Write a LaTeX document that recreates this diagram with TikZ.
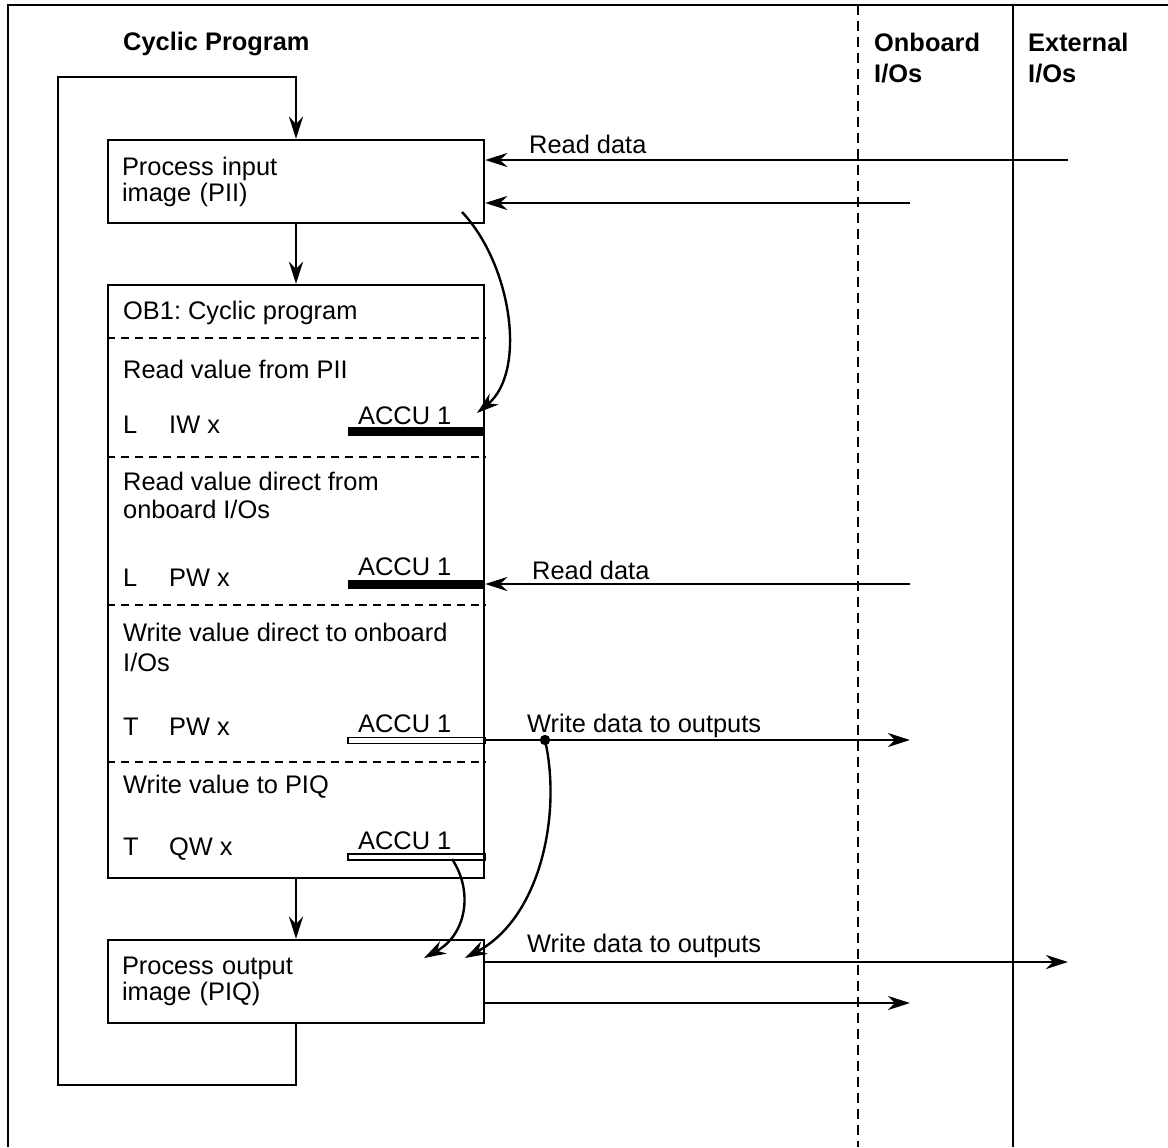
\documentclass[tikz,border=0pt]{standalone}
\usepackage{fontspec}
\setmainfont{Liberation Sans}
\usepackage{tikz}
\usetikzlibrary{arrows.meta}
\frenchspacing

\begin{document}
\begin{tikzpicture}[x=0.5pt,y=-0.5pt,>={Stealth[length=11pt,width=7pt,inset=3.5pt]},
  font=\fontsize{12.7}{13}\selectfont,line width=1.2pt,
  procbox/.style={draw,minimum width=188pt,minimum height=41.5pt,text width=174pt,inner xsep=7pt,align=left},
  lbl/.style={anchor=base west,inner sep=0pt},
  head/.style={anchor=north west,inner sep=0pt,align=left,font=\fontsize{12.7}{15.5}\selectfont\bfseries},
  sep/.style={line width=1pt,dash pattern=on 4pt off 3pt},
  accu/.style={line width=4.5pt},
  accuw/.style={line width=0.6pt}]
\useasboundingbox (0,0) rectangle (1168,1147);
% frame and columns
\draw (1168,5) -- (8,5) -- (8,1147);
\draw[dash pattern=on 5pt off 3pt] (858,5) -- (858,1147);
\draw (1013,5) -- (1013,1147);
\node[head,anchor=base west] (cyc) at (122,50) {Cyclic Program};
\node[head] (onb) at (873,32) {Onboard\\I/Os};
\node[head] (ext) at (1027,32) {External\\I/Os};
% boxes
\node[procbox] (pii) at (296,181.5) {Process input\\image (PII)};
\node[draw,minimum width=188pt,minimum height=296.5pt] (ob1) at (296,581.5) {};
\node[procbox] (piq) at (296,981.5) {Process output\\image (PIQ)};
\draw[->] (pii) -- (ob1);
\draw[->] (ob1) -- (piq);
\coordinate (lpb) at (58,1085);
\coordinate (lpt) at (58,77);
\draw[->] (piq.south) |- (lpb) -- (lpt) -| (pii.north);
\foreach \y in {338,457,605,762}
  \draw[sep] (ob1.west |- 0,\y) -- (ob1.east |- 0,\y);
% OB1 rows
\node[lbl] (t1) at (122,319) {OB1: Cyclic program};
\node[lbl] (t2) at (122,378) {Read value from PII};
\node[lbl] (l1) at (122,433) {L};
\node[lbl] (o1) at (168,433) {IW x};
\node[lbl] (a1) at (357,424) {ACCU 1};
\draw[accu] (348,431.5) -- (ob1.east |- 0,431.5);
\node[lbl] (t3) at (122,490) {Read value direct from};
\node[lbl] (t3b) at (122,518) {onboard I/Os};
\node[lbl] (l2) at (122,586) {L};
\node[lbl] (o2) at (168,586) {PW x};
\node[lbl] (a2) at (357,575) {ACCU 1};
\draw[accu] (348,584) -- (ob1.east |- 0,584);
\node[lbl] (t4) at (122,641) {Write value direct to onboard};
\node[lbl] (t4b) at (122,671) {I/Os};
\node[lbl] (l3) at (122,735) {T};
\node[lbl] (o3) at (168,735) {PW x};
\node[lbl] (a3) at (357,732) {ACCU 1};
\draw[accuw] (348,737.5) rectangle (ob1.east |- 0,743.5);
\node[lbl] (t5) at (122,793) {Write value to PIQ};
\node[lbl] (l4) at (122,855) {T};
\node[lbl] (o4) at (168,855) {QW x};
\node[lbl] (a4) at (357,849) {ACCU 1};
\draw[accuw] (348,854) rectangle (ob1.east |- 0,860);
% data flow
\coordinate (rd1) at (1068,160);
\coordinate (rd2) at (910,203);
\draw[->] (rd1) -- (pii.east |- rd1);
\draw[->] (rd2) -- (pii.east |- rd2);
\node[lbl] (rdl1) at (528,153) {Read data};
\coordinate (c1s) at (462,212);
\coordinate (c1e) at (477,413);
\draw[->] (c1s) .. controls (512,265) and (527,372) .. (c1e);
\coordinate (rd3) at (910,584);
\draw[->] (rd3) -- (ob1.east |- rd3);
\node[lbl] (rdl2) at (531,579) {Read data};
\coordinate (wr1) at (910,740);
\draw[->] (ob1.east |- wr1) -- (wr1);
\node[lbl] (wrl1) at (526,732) {Write data to outputs};
\coordinate (wdot) at (545,740);
\fill (wdot) circle (2.6pt);
\coordinate (c2e) at (465,958);
\draw[->] (wdot) .. controls (562,815) and (540,918) .. (c2e);
\coordinate (c3s) at (452,859);
\coordinate (c3e) at (424,958);
\draw[->] (c3s) .. controls (474,892) and (466,935) .. (c3e);
\coordinate (wr2) at (1068,962);
\coordinate (wr3) at (910,1003);
\draw[->] (piq.east |- wr2) -- (wr2);
\draw[->] (piq.east |- wr3) -- (wr3);
\node[lbl] (wrl2) at (526,952) {Write data to outputs};
\end{tikzpicture}
\end{document}
